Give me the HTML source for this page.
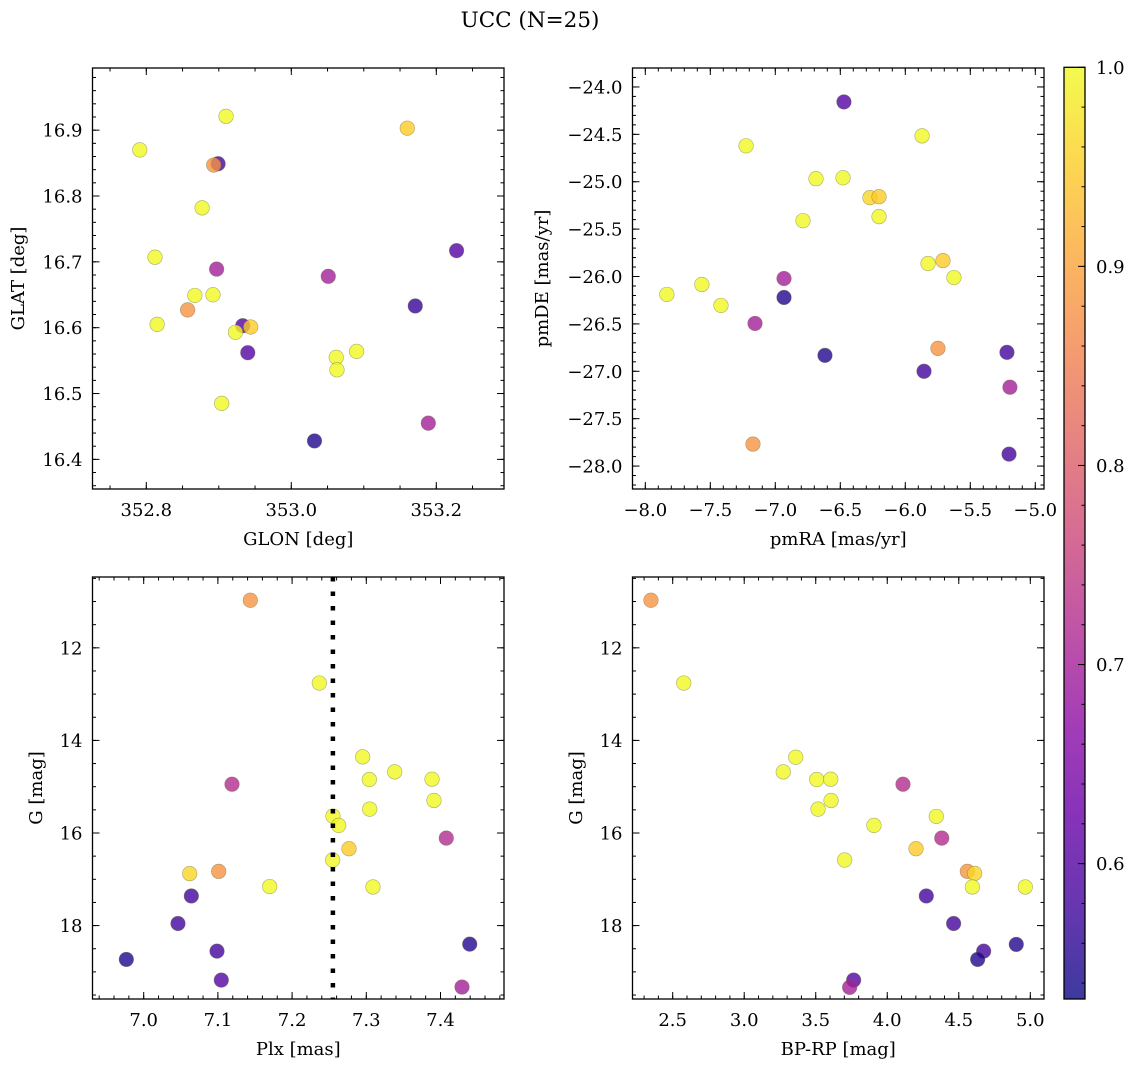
<!DOCTYPE html>
<html><head><meta charset="utf-8">
<style>
html,body{margin:0;padding:0;background:#fff;}
svg{display:block;font-family:"DejaVu Serif","Liberation Serif",serif;}
</style></head>
<body>
<svg id="fig" width="1136" height="1067" viewBox="0 0 1136 1067" xmlns="http://www.w3.org/2000/svg">
<defs>
<linearGradient id="plasma" x1="0" y1="1" x2="0" y2="0">
<stop offset="0" stop-color="#0d0887"/><stop offset="0.1" stop-color="#41049d"/>
<stop offset="0.2" stop-color="#6a00a8"/><stop offset="0.3" stop-color="#8f0da4"/>
<stop offset="0.4" stop-color="#b12a90"/><stop offset="0.5" stop-color="#cc4778"/>
<stop offset="0.6" stop-color="#e16462"/><stop offset="0.7" stop-color="#f2844b"/>
<stop offset="0.8" stop-color="#fca636"/><stop offset="0.9" stop-color="#fcce25"/>
<stop offset="1" stop-color="#f0f921"/>
</linearGradient>
</defs>
<text x="530" y="27" font-size="21.5" text-anchor="middle">UCC (N=25)</text>
</svg>
<script>
// ---- data ----
const glon = [352.791,352.910,353.160,352.899,352.893,352.877,352.812,352.897,353.228,353.051,352.867,352.892,352.857,352.815,353.171,352.933,352.944,352.923,352.940,353.062,353.090,353.063,352.904,353.189,353.032];
const glat = [16.870,16.921,16.903,16.849,16.847,16.782,16.707,16.689,16.717,16.678,16.649,16.650,16.627,16.605,16.633,16.603,16.601,16.593,16.562,16.555,16.564,16.536,16.485,16.455,16.428];
const probTL = [1.0,1.0,0.95,0.58,0.88,1.0,1.0,0.70,0.60,0.70,1.0,1.0,0.88,1.0,0.57,0.60,0.95,1.0,0.60,1.0,1.0,1.0,1.0,0.70,0.55];

const pmra = [-6.472,-7.225,-5.871,-6.687,-6.479,-6.272,-6.202,-6.202,-6.787,-5.825,-5.710,-5.626,-7.834,-7.565,-7.418,-6.933,-6.933,-7.156,-6.618,-5.749,-5.218,-5.856,-5.195,-7.172,-5.202];
const pmde = [-24.158,-24.621,-24.516,-24.968,-24.958,-25.168,-25.158,-25.368,-25.411,-25.863,-25.832,-26.011,-26.189,-26.084,-26.305,-26.021,-26.221,-26.495,-26.832,-26.758,-26.800,-27.000,-27.168,-27.768,-27.874];
const probTR = [0.60,1.0,1.0,1.0,1.0,0.96,0.95,1.0,1.0,1.0,0.95,1.0,1.0,1.0,1.0,0.70,0.55,0.70,0.55,0.88,0.58,0.58,0.70,0.88,0.58];

const plx = [7.1437,7.2367,7.1190,7.2951,7.3383,7.3041,7.3886,7.3912,7.3046,7.2551,7.2628,7.4078,7.2767,7.2547,7.0620,7.1011,7.1698,7.3090,7.0642,7.0462,7.0988,6.9766,7.1046,7.4394,7.4290];
const gmagL = [10.972,12.761,14.946,14.356,14.679,14.845,14.838,15.297,15.485,15.636,15.836,16.110,16.339,16.584,16.877,16.828,17.157,17.166,17.360,17.955,18.552,18.731,19.177,18.401,19.328];
const probBL = [0.88,1.0,0.72,1.0,1.0,1.0,1.0,1.0,1.0,1.0,1.0,0.72,0.95,1.0,0.96,0.88,1.0,1.0,0.58,0.58,0.58,0.55,0.60,0.55,0.70];
const plxMean = [7.255];

const bprp = [2.348,2.577,3.360,3.273,3.507,3.605,3.607,3.516,4.110,4.343,3.907,4.381,4.201,3.702,4.560,4.611,4.595,4.965,4.273,4.464,4.674,4.632,4.902,3.765,3.737];
const gmagR = [10.972,12.761,14.364,14.679,14.845,14.838,15.297,15.485,14.946,15.642,15.836,16.110,16.339,16.584,16.828,16.871,17.166,17.166,17.360,17.955,18.552,18.731,18.407,19.177,19.334];
const probBR = [0.88,1.0,1.0,1.0,1.0,1.0,1.0,1.0,0.72,1.0,1.0,0.72,0.95,1.0,0.88,0.96,1.0,1.0,0.58,0.58,0.58,0.55,0.55,0.60,0.70];

const ticksTLx = [352.8,353.0,353.2];
const ticksTLy = [16.4,16.5,16.6,16.7,16.8,16.9];
const ticksTRx = [-8.0,-7.5,-7.0,-6.5,-6.0,-5.5,-5.0];
const ticksTRy = [-28.0,-27.5,-27.0,-26.5,-26.0,-25.5,-25.0,-24.5,-24.0];
const ticksBLx = [7.0,7.1,7.2,7.3,7.4];
const ticksGy = [12,14,16,18];
const ticksBRx = [2.5,3.0,3.5,4.0,4.5,5.0];
const ticksCbar = [0.6,0.7,0.8,0.9,1.0];
const cbarRange = [0.532,1.0];

// ---- helpers ----
const NS="http://www.w3.org/2000/svg";
const svg=document.getElementById('fig');
const FS=18;
function mk(tag,attrs,parent){const e=document.createElementNS(NS,tag);for(const k in attrs)e.setAttribute(k,attrs[k]);(parent||svg).appendChild(e);return e;}
const stops=[[13,8,135],[65,4,157],[106,0,168],[143,13,164],[177,42,144],[204,71,120],[225,100,98],[242,132,75],[252,166,54],[252,206,37],[240,249,33]];
function plasma(v){let t=(v-cbarRange[0])/(cbarRange[1]-cbarRange[0]);t=Math.max(0,Math.min(1,t))*10;const i=Math.min(9,Math.floor(t)),f=t-i;const a=stops[i],b=stops[i+1];return 'rgb('+a.map((c,k)=>Math.round(c+(b[k]-c)*f)).join(',')+')';}
function fmt(v,d){const s=Math.abs(v).toFixed(d);return (v<0?'\u2212':'')+s;}

function panel(o){
  const g=mk('g',{});
  
  
  const sx=v=>o.px[0]+(v-o.dx[0])/(o.dx[1]-o.dx[0])*(o.px[1]-o.px[0]);
  const sy=v=>o.py[1]-(v-o.dy[0])/(o.dy[1]-o.dy[0])*(o.py[1]-o.py[0]);
  const pg=mk('g',{},g);
  
  
  for(let i=0;i<o.xs.length;i++){
    const c=mk('circle',{cx:sx(o.xs[i]),cy:sy(o.ys[i]),r:7.3,fill:plasma(o.cs[i]),'fill-opacity':0.8,stroke:'rgba(110,110,60,0.55)','stroke-width':0.6},pg);
    
    
  }
  if(o.vline){for(const v of o.vline){const l=mk('line',{x1:sx(v),x2:sx(v),y1:o.py[0],y2:o.py[1],stroke:'#000','stroke-width':4.5,'stroke-dasharray':'4.5 10'},g);
    
    }}
  const f=mk('rect',{x:o.px[0],y:o.py[0],width:o.px[1]-o.px[0],height:o.py[1]-o.py[0],fill:'none',stroke:'#000','stroke-width':1.3},g);
  
  
  const tk=mk('g',{stroke:'#000','stroke-width':1},g);
  const lo=Math.min(o.dx[0],o.dx[1]),hi=Math.max(o.dx[0],o.dx[1]);
  for(let v=Math.ceil(lo/o.mx-1e-9)*o.mx;v<=hi;v+=o.mx){const x=sx(v);mk('line',{x1:x,x2:x,y1:o.py[1],y2:o.py[1]-3.5},tk);mk('line',{x1:x,x2:x,y1:o.py[0],y2:o.py[0]+3.5},tk);}
  const ylo=Math.min(o.dy[0],o.dy[1]),yhi=Math.max(o.dy[0],o.dy[1]);
  for(let v=Math.ceil(ylo/o.my-1e-9)*o.my;v<=yhi;v+=o.my){const y=sy(v);mk('line',{y1:y,y2:y,x1:o.px[0],x2:o.px[0]+3.5},tk);mk('line',{y1:y,y2:y,x1:o.px[1],x2:o.px[1]-3.5},tk);}
  for(const v of o.tx){const x=sx(v);mk('line',{x1:x,x2:x,y1:o.py[1],y2:o.py[1]-7},tk);mk('line',{x1:x,x2:x,y1:o.py[0],y2:o.py[0]+7},tk);
    const t=mk('text',{x:x,y:o.py[1]+27,'font-size':FS,'text-anchor':'middle'},g);t.textContent=fmt(v,o.fx);
    
    }
  for(const v of o.ty){const y=sy(v);mk('line',{y1:y,y2:y,x1:o.px[0],x2:o.px[0]+7},tk);mk('line',{y1:y,y2:y,x1:o.px[1],x2:o.px[1]-7},tk);
    const t=mk('text',{x:o.px[0]-10,y:y+6.5,'font-size':FS,'text-anchor':'end'},g);t.textContent=fmt(v,o.fy);
    
    }
  const xl=mk('text',{x:(o.px[0]+o.px[1])/2,y:o.py[1]+56,'font-size':FS,'text-anchor':'middle'},g);xl.textContent=o.xlab;
  
  
  const yx=o.ylx,yy=(o.py[0]+o.py[1])/2;
  const yl=mk('text',{x:yx,y:yy,'font-size':FS,'text-anchor':'middle',transform:'rotate(-90 '+yx+' '+yy+')'},g);yl.textContent=o.ylab;
  
  
}

panel({name:'glon-glat-panel',px:[92.5,504],py:[68,489],dx:[352.7258,353.2934],dy:[16.355,16.9944],xs:glon,ys:glat,cs:probTL,tx:ticksTLx,ty:ticksTLy,fx:1,fy:1,mx:0.05,my:0.02,xlab:'GLON [deg]',ylab:'GLAT [deg]',ylx:24});
panel({name:'proper-motion-panel',px:[632.5,1044],py:[68,489],dx:[-8.0985,-4.933],dy:[-28.242,-23.8],xs:pmra,ys:pmde,cs:probTR,tx:ticksTRx,ty:ticksTRy,fx:1,fy:1,mx:0.1,my:0.1,xlab:'pmRA [mas/yr]',ylab:'pmDE [mas/yr]',ylx:548});
panel({name:'plx-g-panel',px:[92.5,504],py:[577,999],dx:[6.931,7.4856],dy:[19.586,10.47],xs:plx,ys:gmagL,cs:probBL,tx:ticksBLx,ty:ticksGy,fx:1,fy:0,mx:0.02,my:0.5,xlab:'Plx [mas]',ylab:'G [mag]',ylx:42,vline:plxMean});
panel({name:'cmd-panel',px:[632.5,1044],py:[577,999],dx:[2.219,5.0958],dy:[19.586,10.47],xs:bprp,ys:gmagR,cs:probBR,tx:ticksBRx,ty:ticksGy,fx:1,fy:0,mx:0.1,my:0.5,xlab:'BP-RP [mag]',ylab:'G [mag]',ylx:582});

(function(){
  const x0=1064,x1=1085,y0=67.3,y1=999;
  const sc=v=>y1-(v-cbarRange[0])/(cbarRange[1]-cbarRange[0])*(y1-y0);
  const g=mk('g',{});
  
  
  mk('rect',{x:x0,y:y0,width:x1-x0,height:y1-y0,fill:'url(#plasma)','fill-opacity':0.8},g);
  mk('rect',{x:x0,y:y0,width:x1-x0,height:y1-y0,fill:'none',stroke:'#000','stroke-width':1.3},g);
  for(let v=0.54;v<=1.0001;v+=0.02){const y=sc(v);mk('line',{x1:x1,x2:x1-3.5,y1:y,y2:y,stroke:'#000','stroke-width':1},g);}
  for(const v of ticksCbar){const y=sc(v);mk('line',{x1:x1,x2:x1-7,y1:y,y2:y,stroke:'#000','stroke-width':1},g);
    const t=mk('text',{x:x1+11,y:y+6.5,'font-size':FS},g);t.textContent=v.toFixed(1);
    
    }
})();
</script>
</body></html>
